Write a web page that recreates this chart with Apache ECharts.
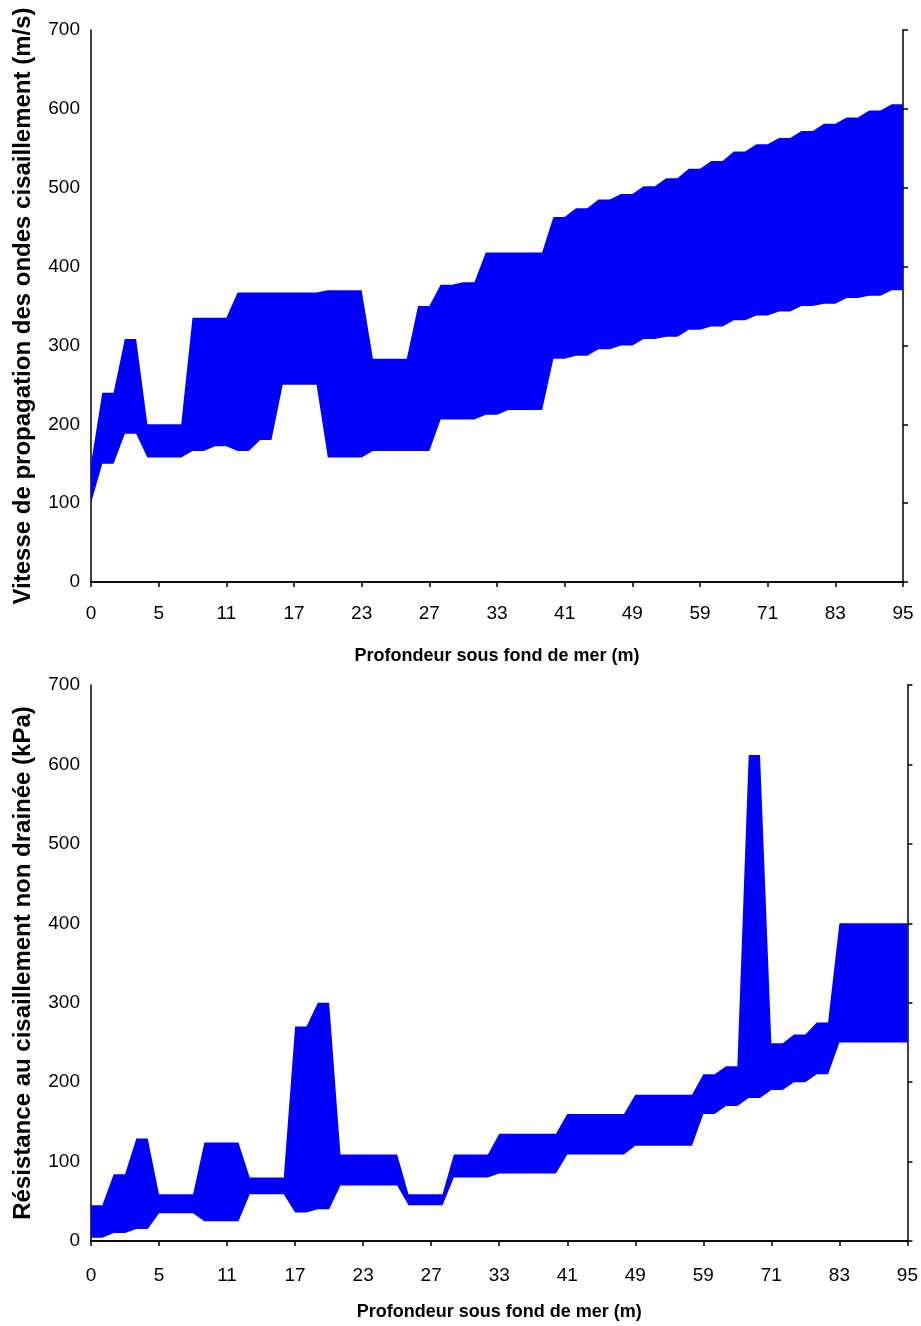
<!DOCTYPE html>
<html>
<head>
<meta charset="utf-8">
<script src="https://cdn.jsdelivr.net/npm/echarts@6/dist/echarts.min.js"></script>
<style>
html,body{margin:0;padding:0;background:#fff;}
#chart{width:921px;height:1326px;}
</style>
</head>
<body>
<div id="chart"></div>
<script>
// Depth below seabed (m), category axis (every 6th labelled)
const depth = [0,1,2,3,4,4.5,5, 6,7,8,9,10,11, 12,13,14,15,16,17, 18,19,20,21,22,23,
  23.5,24,25,26,26.5,27, 28,29,30,31,32,33, 34,35,37,38,40,41, 42,44,45,46,48,49,
  51,53,55,57,58,59, 61,63,65,67,69,71, 73,75,77,79,81,83, 85,87,89,91,93,95];

// Shear wave velocity band (m/s)
const vsLower = [100,150,150,188,188,158,158,158,158,166,166,172,172,166,166,180,180,250,250,250,250,
  158,158,158,158,166,166,166,166,166,166,206,206,206,206,212,212,218,218,218,218,
  283,283,287,287,295,295,300,300,308,308,311,311,320,320,324,324,332,332,338,338,
  343,343,350,350,353,353,360,360,363,363,370,370];
const vsUpper = [150,240,240,308,308,200,200,200,200,335,335,335,335,367,367,367,367,367,367,367,367,
  370,370,370,370,283,283,283,283,350,350,377,377,380,380,418,418,418,418,418,418,
  463,463,474,474,485,485,492,492,502,502,512,512,524,524,534,534,546,546,555,555,
  563,563,572,572,581,581,589,589,598,598,606,606];

// Undrained shear strength band (kPa)
const cuLower = [4,4,10,10,15,15,35,35,35,35,25,25,25,25,59,59,59,59,36,36,40,40,
  70,70,70,70,70,70,45,45,45,45,80,80,80,80,85,85,85,85,85,85,
  109,109,109,109,109,109,120,120,120,120,120,120,160,160,170,170,180,180,
  190,190,200,200,210,210,250,250,250,250,250,250,250];
const cuUpper = [45,45,84,84,129,129,59,59,59,59,124,124,124,124,80,80,80,80,270,270,300,300,
  109,109,109,109,109,109,59,59,59,59,109,109,109,109,135,135,135,135,135,135,
  160,160,160,160,160,160,184,184,184,184,184,184,210,210,220,220,612,612,
  249,249,260,260,275,275,400,400,400,400,400,400,400];

const yTicks = {min:0, max:700, interval:100};
const xName = 'Profondeur sous fond de mer (m)';
const yName1 = 'Vitesse de propagation des ondes cisaillement (m/s)';
const yName2 = 'Résistance au cisaillement non drainée (kPa)';

const FONT = "'Liberation Sans', Arial, sans-serif";
const axisLineStyle = {color:'#000', width:1.5};

function xAxes(g, labelMargin, nameGap){
  return [{
    gridIndex:g, type:'category', data:depth, boundaryGap:false,
    axisLine:{lineStyle:axisLineStyle},
    axisTick:{interval:5, length:5, lineStyle:axisLineStyle},
    axisLabel:{interval:5, margin:labelMargin, fontSize:19, color:'#000', fontFamily:FONT},
    name:xName, nameLocation:'middle', nameGap:nameGap,
    nameTextStyle:{fontSize:18, fontWeight:'bold', color:'#000', fontFamily:FONT}
  },{
    gridIndex:g, type:'category', data:depth, boundaryGap:false, position:'top',
    axisLine:{lineStyle:axisLineStyle}, axisTick:{show:false}, axisLabel:{show:false}
  }];
}
function yAxes(g, name){
  return [{
    gridIndex:g, type:'value', min:yTicks.min, max:yTicks.max, interval:yTicks.interval,
    axisLine:{show:true, lineStyle:axisLineStyle}, axisTick:{show:false},
    axisLabel:{margin:11, fontSize:19, color:'#000', fontFamily:FONT},
    splitLine:{show:false},
    name:name, nameLocation:'middle', nameGap:56,
    nameTextStyle:{fontSize:24, fontWeight:'bold', color:'#000', fontFamily:FONT}
  },{
    gridIndex:g, type:'value', min:yTicks.min, max:yTicks.max, interval:yTicks.interval, position:'right',
    axisLine:{show:true, lineStyle:axisLineStyle},
    axisTick:{show:true, inside:false, length:5, lineStyle:axisLineStyle},
    axisLabel:{show:false}, splitLine:{show:false}
  }];
}
function band(g, lower, upper, key){
  return [{
    type:'line', xAxisIndex:g*2, yAxisIndex:g*2, data:lower, stack:key, symbol:'none',
    lineStyle:{width:0, opacity:0}, silent:true
  },{
    type:'line', xAxisIndex:g*2, yAxisIndex:g*2, data:upper.map((u,i)=>u-lower[i]), stack:key, symbol:'none',
    lineStyle:{width:0, opacity:0}, areaStyle:{color:'#0000FF', opacity:1}, silent:true
  }];
}

const chart = echarts.init(document.getElementById('chart'));
chart.setOption({
  animation:false,
  backgroundColor:'#fff',
  grid:[
    {left:91, top:30, width:812, height:552},
    {left:91, top:685, width:817, height:556}
  ],
  xAxis:[...xAxes(0, 22, 65), ...xAxes(1, 25, 62)],
  yAxis:[...yAxes(0, yName1), ...yAxes(1, yName2)],
  series:[...band(0, vsLower, vsUpper, 'vs'), ...band(1, cuLower, cuUpper, 'cu')]
});
</script>
</body>
</html>
